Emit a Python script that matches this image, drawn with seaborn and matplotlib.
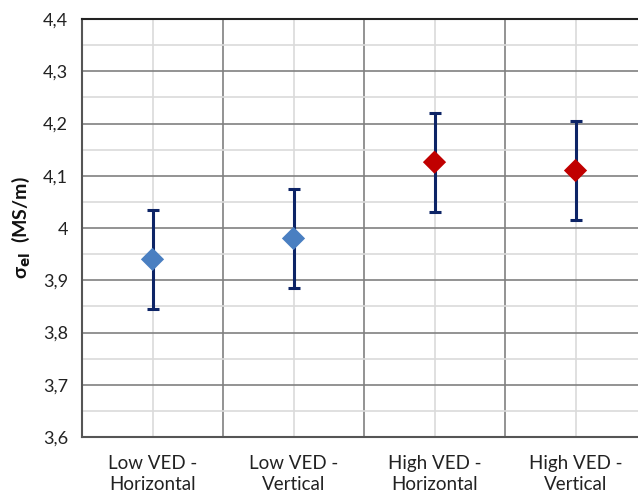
import matplotlib
matplotlib.use("Agg")
import matplotlib.pyplot as plt
import matplotlib.ticker as mticker
import numpy as np
import pandas as pd
import seaborn as sns

categories = ["Low VED -\nHorizontal", "Low VED -\nVertical",
              "High VED -\nHorizontal", "High VED -\nVertical"]
groups = ["Low", "Low", "High", "High"]
sigma_mean = [3.940, 3.980, 4.126, 4.110]
sigma_err = [0.095, 0.095, 0.095, 0.095]
y_ticks = [3.6, 3.7, 3.8, 3.9, 4.0, 4.1, 4.2, 4.3, 4.4]
y_tick_labels = ["3,6", "3,7", "3,8", "3,9", "4", "4,1", "4,2", "4,3", "4,4"]

palette = {"Low": "#4a7fc1", "High": "#c00000"}
bar_color = "#0d2466"

sns.set_style("white")
plt.rcParams["font.family"] = ["Lato", "DejaVu Sans"]

df = pd.DataFrame({
    "pos": np.arange(len(categories)),
    "category": categories,
    "group": groups,
    "mean": sigma_mean,
    "err": sigma_err,
})

fig = plt.figure(figsize=(6.38, 4.98), dpi=100)
ax = fig.add_axes([82 / 638, 61 / 498, 564 / 638, 418 / 498])

ax.errorbar(df["pos"], df["mean"], yerr=df["err"], fmt="none",
            ecolor=bar_color, elinewidth=2.2, capsize=4, capthick=2.2, zorder=3)
sns.scatterplot(data=df, x="pos", y="mean", hue="group", palette=palette,
                marker="D", s=140, edgecolor="none", legend=False, ax=ax, zorder=4)

ax.set_xlim(-0.5, len(categories) - 0.5)
ax.set_ylim(3.6, 4.4)

# category boundaries as major ticks, labels on minor ticks at centres
ax.set_xticks(np.arange(len(categories) + 1) - 0.5)
ax.set_xticklabels([])
ax.set_xticks(df["pos"], minor=True)
ax.set_xticklabels(categories, minor=True, fontsize=13.5, color="#222222",
                   linespacing=1.25)
ax.set_yticks(y_ticks)
ax.set_yticklabels(y_tick_labels, fontsize=13, color="#222222")
ax.yaxis.set_minor_locator(mticker.MultipleLocator(0.05))

ax.tick_params(axis="x", which="major", length=5, color="#bbbbbb", direction="out")
ax.tick_params(axis="x", which="minor", length=0, pad=13)
ax.tick_params(axis="y", which="major", length=4, color="#bbbbbb", direction="out", pad=6)
ax.tick_params(axis="y", which="minor", length=0)

ax.grid(True, which="major", color="#808080", linewidth=1.2, zorder=0)
ax.grid(True, which="minor", color="#dadada", linewidth=1.2, zorder=0)
ax.set_axisbelow(True)

for side in ["top", "left", "bottom"]:
    ax.spines[side].set_visible(True)
    ax.spines[side].set_linewidth(1.5)
ax.spines["top"].set_color("#222222")
ax.spines["left"].set_color("#555555")
ax.spines["bottom"].set_color("#555555")
ax.spines["right"].set_visible(False)

ax.set_xlabel("")
ax.set_ylabel(r"σ$_{\mathbf{el}}$  (MS/m)", fontsize=14, fontweight="bold",
              color="#111111", labelpad=8)

fig.savefig("out.png", dpi=100)
plt.close(fig)
